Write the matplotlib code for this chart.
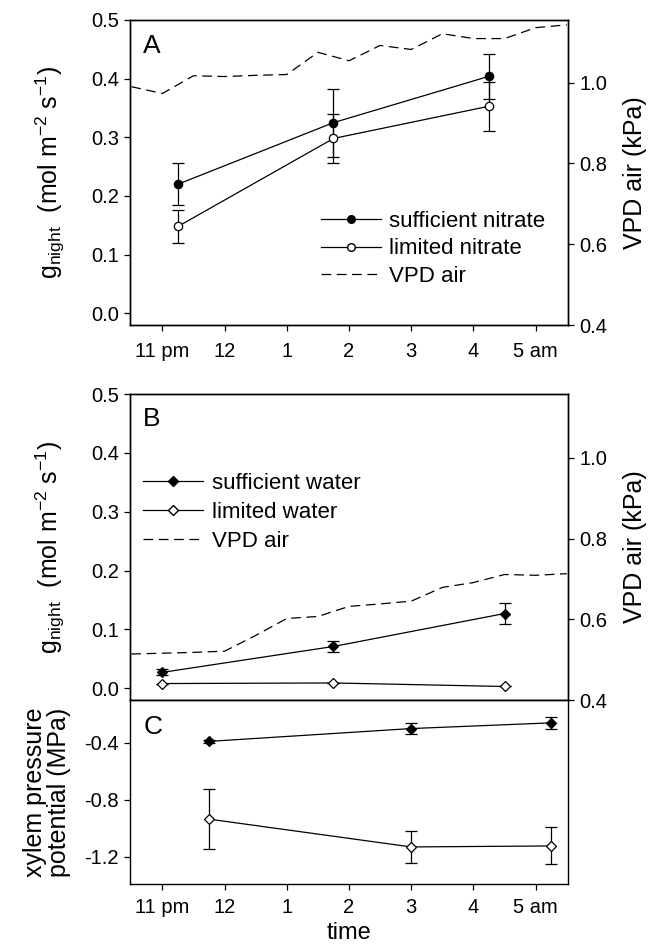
import matplotlib
matplotlib.use('Agg')
import matplotlib.pyplot as plt
from matplotlib.lines import Line2D

plt.rcParams['font.family'] = ['Liberation Sans', 'DejaVu Sans']
plt.rcParams['mathtext.fontset'] = 'custom'
plt.rcParams['mathtext.rm'] = 'Liberation Sans'
plt.rcParams['mathtext.it'] = 'Liberation Sans:italic'
plt.rcParams['lines.scale_dashes'] = False
plt.rcParams['axes.linewidth'] = 1.0

# ---------------- data ----------------
tick_hours = [0, 1, 2, 3, 4, 5, 6]
tick_labels = ['11 pm', '12', '1', '2', '3', '4', '5 am']

# Panel A (nitrate)
nit_time = [0.25, 2.75, 5.25]
suff_nitrate = [0.220, 0.325, 0.404]
suff_nitrate_err = [0.036, 0.058, 0.038]
lim_nitrate = [0.148, 0.298, 0.353]
lim_nitrate_err = [0.028, 0.042, 0.042]

vpd_time = [-0.5, 0.0, 0.5, 1.0, 1.5, 2.0, 2.5, 3.0, 3.5, 4.0, 4.5, 5.0, 5.5, 6.0, 6.5]
vpd_a = [0.990, 0.973, 1.017, 1.015, 1.018, 1.020, 1.075, 1.054, 1.092, 1.082,
         1.121, 1.109, 1.109, 1.136, 1.143]

# Panel B (water)
water_time = [0.0, 2.75, 5.5]
suff_water = [0.027, 0.071, 0.127]
suff_water_err = [0.005, 0.009, 0.018]
lim_water = [0.008, 0.009, 0.003]
lim_water_err = [0.0, 0.0, 0.0]

vpd_b = [0.514, 0.516, 0.518, 0.521, 0.560, 0.602, 0.607, 0.632, 0.638, 0.645,
         0.679, 0.691, 0.711, 0.709, 0.713]

# Panel C (xylem pressure potential)
xylem_time = [0.75, 4.0, 6.25]
suff_xylem = [-0.39, -0.30, -0.26]
suff_xylem_err = [0.012, 0.04, 0.043]
lim_xylem = [-0.935, -1.13, -1.123]
lim_xylem_err = [0.21, 0.115, 0.13]

# ---------------- style ----------------
TICK_FS = 14.5
LABEL_FS = 18
LEG_FS = 16
LETTER_FS = 19
LW = 0.9
MS = 6
CAP = 4.5
DASH = (7, 4)

fig = plt.figure(figsize=(6.58, 9.47), dpi=100)
L, W = 0.1976, 0.6657
ax_a = fig.add_axes([L, 0.6568, W, 0.3221])
ax_b = fig.add_axes([L, 0.2608, W, 0.3231])
ax_c = fig.add_axes([L, 0.0665, W, 0.1943])

XLIM = (-0.52, 6.52)

def eb(ax, x, y, err, marker, mfc, ms=MS):
    ax.errorbar(x, y, yerr=err, fmt='-', marker=marker, color='black', mfc=mfc,
                mec='black', ms=ms, mew=0.9, lw=LW, elinewidth=LW, capsize=CAP,
                capthick=LW, zorder=3)

def style(ax):
    ax.set_xlim(*XLIM)
    ax.tick_params(axis='both', direction='out', length=4, width=0.9,
                   labelsize=TICK_FS, pad=4)
    ax.tick_params(axis='y', right=False)
    ax.tick_params(axis='x', top=False)

GLABEL = r'$\mathrm{g_{night}}$  (mol m$^{\mathrm{-2}}$ s$^{\mathrm{-1}}$)'

# ---- Panel A ----
eb(ax_a, nit_time, suff_nitrate, suff_nitrate_err, 'o', 'black')
eb(ax_a, nit_time, lim_nitrate, lim_nitrate_err, 'o', 'white')
style(ax_a)
ax_a.set_ylim(-0.02, 0.5)
ax_a.set_yticks([0.0, 0.1, 0.2, 0.3, 0.4, 0.5])
ax_a.set_yticklabels(['0.0', '0.1', '0.2', '0.3', '0.4', '0.5'])
ax_a.set_xticks(tick_hours)
ax_a.set_xticklabels(tick_labels)
ax_a.tick_params(axis='x', pad=8)
ax_a.set_ylabel(GLABEL, fontsize=LABEL_FS)
ax_a.yaxis.set_label_coords(-0.145, 0.5)
ax_a.text(0.03, 0.955, 'A', transform=ax_a.transAxes, fontsize=LETTER_FS, va='top', ha='left')

ax_a2 = ax_a.twinx()
ax_a2.plot(vpd_time, vpd_a, color='black', lw=LW, dashes=DASH)
ax_a2.set_ylim(0.4, 1.155)
ax_a2.set_yticks([0.4, 0.6, 0.8, 1.0])
ax_a2.set_yticklabels(['0.4', '0.6', '0.8', '1.0'])
ax_a2.tick_params(axis='y', direction='out', length=4, width=0.9, labelsize=TICK_FS, pad=4)
ax_a2.set_ylabel('VPD air (kPa)', fontsize=LABEL_FS, rotation=90)
ax_a2.yaxis.set_label_coords(1.125, 0.5)
ax_a2.set_xlim(*XLIM)

handles_a = [
    Line2D([], [], color='black', lw=LW, marker='o', mfc='black', mec='black', ms=MS - 0.5),
    Line2D([], [], color='black', lw=LW, marker='o', mfc='white', mec='black', ms=MS - 0.5),
    Line2D([], [], color='black', lw=LW, dashes=DASH),
]
ax_a2.legend(handles_a, ['sufficient nitrate', 'limited nitrate', 'VPD air'],
             loc='upper left', bbox_to_anchor=(0.435, 0.375), frameon=False,
             fontsize=LEG_FS, handlelength=2.7, handletextpad=0.4,
             labelspacing=0.3, borderpad=0, borderaxespad=0, numpoints=1)

# ---- Panel B ----
eb(ax_b, water_time, suff_water, suff_water_err, 'D', 'black', ms=MS - 0.5)
eb(ax_b, water_time, lim_water, lim_water_err, 'D', 'white', ms=MS - 0.5)
style(ax_b)
ax_b.set_ylim(-0.02, 0.5)
ax_b.set_yticks([0.0, 0.1, 0.2, 0.3, 0.4, 0.5])
ax_b.set_yticklabels(['0.0', '0.1', '0.2', '0.3', '0.4', '0.5'])
ax_b.set_xticks([])
ax_b.set_ylabel(GLABEL, fontsize=LABEL_FS)
ax_b.yaxis.set_label_coords(-0.145, 0.5)
ax_b.text(0.03, 0.957, 'B', transform=ax_b.transAxes, fontsize=LETTER_FS, va='top', ha='left')

ax_b2 = ax_b.twinx()
ax_b2.plot(vpd_time, vpd_b, color='black', lw=LW, dashes=DASH)
ax_b2.set_ylim(0.4, 1.158)
ax_b2.set_yticks([0.4, 0.6, 0.8, 1.0])
ax_b2.set_yticklabels(['0.4', '0.6', '0.8', '1.0'])
ax_b2.tick_params(axis='y', direction='out', length=4, width=0.9, labelsize=TICK_FS, pad=4)
ax_b2.set_ylabel('VPD air (kPa)', fontsize=LABEL_FS, rotation=90)
ax_b2.yaxis.set_label_coords(1.125, 0.5)
ax_b2.set_xlim(*XLIM)

handles_b = [
    Line2D([], [], color='black', lw=LW, marker='D', mfc='black', mec='black', ms=MS - 1),
    Line2D([], [], color='black', lw=LW, marker='D', mfc='white', mec='black', ms=MS - 1),
    Line2D([], [], color='black', lw=LW, dashes=DASH),
]
ax_b2.legend(handles_b, ['sufficient water', 'limited water', 'VPD air'],
             loc='upper left', bbox_to_anchor=(0.03, 0.742), frameon=False,
             fontsize=LEG_FS, handlelength=2.7, handletextpad=0.4,
             labelspacing=0.35, borderpad=0, borderaxespad=0, numpoints=1)

# ---- Panel C ----
eb(ax_c, xylem_time, suff_xylem, suff_xylem_err, 'D', 'black', ms=MS - 0.5)
eb(ax_c, xylem_time, lim_xylem, lim_xylem_err, 'D', 'white', ms=MS - 0.5)
style(ax_c)
ax_c.set_ylim(-1.39, -0.1)
ax_c.set_yticks([-0.4, -0.8, -1.2])
ax_c.set_yticklabels(['-0.4', '-0.8', '-1.2'])
ax_c.set_xticks(tick_hours)
ax_c.set_xticklabels(tick_labels)
ax_c.tick_params(axis='x', pad=6)
ax_c.set_ylabel('xylem pressure\npotential (MPa)', fontsize=LABEL_FS, linespacing=1.0)
ax_c.yaxis.set_label_coords(-0.135, 0.5)
ax_c.set_xlabel('time', fontsize=17, labelpad=3.5)
ax_c.text(0.03, 0.92, 'C', transform=ax_c.transAxes, fontsize=LETTER_FS, va='top', ha='left')

fig.savefig('out.png', dpi=100)
